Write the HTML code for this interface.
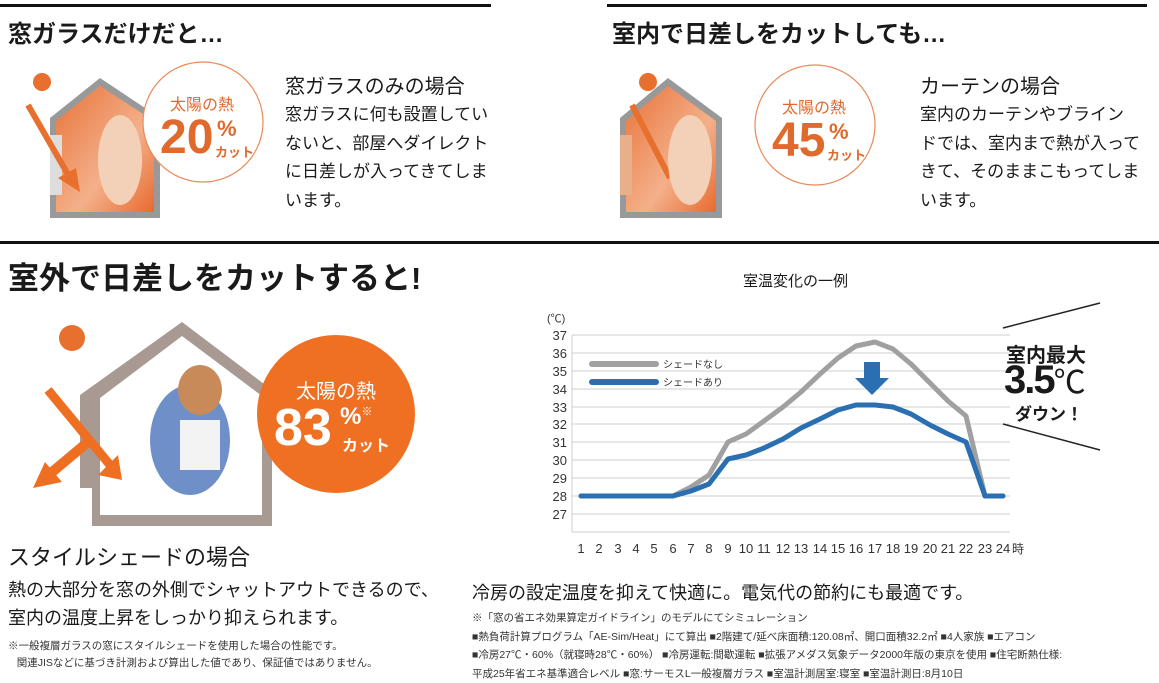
<!DOCTYPE html>
<html><head><meta charset="utf-8"><style>
html,body{margin:0;padding:0;background:#fff;}
body{width:1159px;height:679px;overflow:hidden;position:relative;font-family:"Liberation Sans","Noto Sans CJK JP",sans-serif;color:#1a1a1a;}
.a{position:absolute;white-space:nowrap;}
</style></head><body>
<svg class="a" style="left:0;top:0" width="1159" height="679" viewBox="0 0 1159 679">
<defs>
<linearGradient id="og" x1="0" y1="0" x2="1" y2="1"><stop offset="0" stop-color="#e8733a"/><stop offset="0.6" stop-color="#f4b08a"/><stop offset="1" stop-color="#e86a30"/></linearGradient>
</defs>
<rect x="0" y="4" width="491" height="3" fill="#111"/>
<rect x="607" y="4" width="540" height="3" fill="#111"/>
<rect x="0" y="241" width="1159" height="3" fill="#111"/>

<polygon points="50,118 100,78 160,118 160,218 50,218" fill="#999"/>
<polygon points="56,121 100,86 154,121 154,212 56,212" fill="url(#og)"/>
<rect x="50" y="135" width="12" height="60" fill="#ddd"/>
<circle cx="42" cy="82" r="9" fill="#e8702f"/>
<g stroke="#e8702f" stroke-width="6"><line x1="28" y1="105" x2="70" y2="178"/></g>
<polygon points="58,178 80,192 76,168" fill="#e8702f"/>
<ellipse cx="120" cy="160" rx="22" ry="45" fill="#f3d0b8"/>
<circle cx="203" cy="122" r="60" fill="#fff" stroke="#e8895a" stroke-width="1.2"/>

<polygon points="620,118 668,78 722,118 722,218 620,218" fill="#999"/>
<polygon points="626,121 668,86 716,121 716,212 626,212" fill="url(#og)"/>
<rect x="620" y="135" width="12" height="60" fill="#e8b08a"/>
<circle cx="648" cy="82" r="9" fill="#e8702f"/>
<line x1="632" y1="105" x2="670" y2="178" stroke="#e8702f" stroke-width="6"/>
<ellipse cx="690" cy="160" rx="22" ry="45" fill="#f3d0b8"/>
<circle cx="815" cy="125" r="60" fill="#fff" stroke="#e8895a" stroke-width="1.2"/>

<polygon points="80,395 182,322 272,390 272,526 92,526 92,488 80,488" fill="#a89a92"/>
<polygon points="100,398 182,336 262,396 262,515 100,515" fill="#fff"/>
<circle cx="72" cy="338" r="13" fill="#e8702f"/>
<ellipse cx="190" cy="440" rx="40" ry="55" fill="#6f8fc8"/>
<ellipse cx="200" cy="390" rx="22" ry="25" fill="#c98a5a"/>
<rect x="180" y="420" width="40" height="50" fill="#f3f3f3"/>
<line x1="48" y1="390" x2="110" y2="465" stroke="#ef6f22" stroke-width="9"/>
<polygon points="98,475 122,480 118,455" fill="#ef6f22"/>
<line x1="88" y1="442" x2="45" y2="478" stroke="#ef6f22" stroke-width="10"/>
<polygon points="33,488 62,482 45,462" fill="#ef6f22"/>
<circle cx="336" cy="414" r="79" fill="#ef7022"/>

<g stroke="#cfcfcf" stroke-width="1">
<line x1="572" y1="335" x2="1010" y2="335"/><line x1="572" y1="353" x2="1010" y2="353"/><line x1="572" y1="371" x2="1010" y2="371"/><line x1="572" y1="389" x2="1010" y2="389"/><line x1="572" y1="407" x2="1010" y2="407"/><line x1="572" y1="424" x2="1010" y2="424"/><line x1="572" y1="442" x2="1010" y2="442"/><line x1="572" y1="460" x2="1010" y2="460"/><line x1="572" y1="478" x2="1010" y2="478"/><line x1="572" y1="496" x2="1010" y2="496"/><line x1="572" y1="514" x2="1010" y2="514"/>
<line x1="572" y1="335" x2="572" y2="532"/><line x1="572" y1="532" x2="1010" y2="532"/>
</g>
<g fill="#333" font-size="13" text-anchor="end">
<text x="567" y="340">37</text><text x="567" y="358">36</text><text x="567" y="376">35</text><text x="567" y="394">34</text><text x="567" y="412">33</text><text x="567" y="429">32</text><text x="567" y="447">31</text><text x="567" y="465">30</text><text x="567" y="483">29</text><text x="567" y="501">28</text><text x="567" y="519">27</text>
</g>
<text x="547" y="322" font-size="11" fill="#333">(℃)</text>
<g fill="#333" font-size="13" text-anchor="middle">
<text x="581" y="553">1</text><text x="599" y="553">2</text><text x="618" y="553">3</text><text x="636" y="553">4</text><text x="654" y="553">5</text><text x="673" y="553">6</text><text x="691" y="553">7</text><text x="709" y="553">8</text><text x="728" y="553">9</text><text x="746" y="553">10</text><text x="764" y="553">11</text><text x="783" y="553">12</text><text x="801" y="553">13</text><text x="820" y="553">14</text><text x="838" y="553">15</text><text x="856" y="553">16</text><text x="875" y="553">17</text><text x="893" y="553">18</text><text x="911" y="553">19</text><text x="930" y="553">20</text><text x="948" y="553">21</text><text x="966" y="553">22</text><text x="985" y="553">23</text><text x="1003" y="553">24</text>
</g>
<text x="1012" y="553" font-size="12" fill="#333">時</text>
<polyline fill="none" stroke="#a0a0a0" stroke-width="5" stroke-linejoin="round" stroke-linecap="round" points="581,496 599,496 618,496 636,496 654,496 673,496 691,487 709,475 728,442 746,434 764,421 783,407 801,392 820,374 838,358 856,346 875,342 893,349 911,364 930,383 948,401 966,416 985,496 1003,496"/>
<polyline fill="none" stroke="#2a6fb2" stroke-width="5" stroke-linejoin="round" stroke-linecap="round" points="581,496 599,496 618,496 636,496 654,496 673,496 691,491 709,484 728,459 746,455 764,448 783,439 801,428 820,419 838,410 856,405 875,405 893,407 911,414 930,425 948,434 966,442 985,496 1003,496"/>
<line x1="592" y1="364" x2="656" y2="364" stroke="#a0a0a0" stroke-width="6" stroke-linecap="round"/>
<line x1="592" y1="382" x2="656" y2="382" stroke="#2a6fb2" stroke-width="6" stroke-linecap="round"/>
<text x="663" y="368" font-size="10" fill="#333">シェードなし</text>
<text x="663" y="386" font-size="10" fill="#333">シェードあり</text>
<polygon points="864,362 880,362 880,378 889,378 872,395 855,378 864,378" fill="#2a6fb2"/>
<line x1="1003" y1="328" x2="1100" y2="303" stroke="#222" stroke-width="1.5"/>
<line x1="1003" y1="424" x2="1100" y2="450" stroke="#222" stroke-width="1.5"/>
</svg>

<div class="a" style="left:8px;top:14px;font-size:24px;font-weight:bold;">窓ガラスだけだと…</div>
<div class="a" style="left:612px;top:14px;font-size:24px;font-weight:bold;">室内で日差しをカットしても…</div>
<div class="a" style="left:8px;top:253px;font-size:31px;font-weight:bold;">室外で日差しをカットすると!</div>

<div class="a" style="left:170px;top:91px;font-size:16px;color:#e06a2c;">太陽の熱</div>
<div class="a" style="left:160px;top:110px;font-size:48px;font-weight:bold;color:#e06a2c;">20</div>
<div class="a" style="left:217px;top:116px;font-size:22px;font-weight:bold;color:#e06a2c;">%</div>
<div class="a" style="left:215px;top:142px;font-size:13px;font-weight:bold;color:#e06a2c;">カット</div>

<div class="a" style="left:782px;top:94px;font-size:16px;color:#e06a2c;">太陽の熱</div>
<div class="a" style="left:772px;top:113px;font-size:48px;font-weight:bold;color:#e06a2c;">45</div>
<div class="a" style="left:829px;top:119px;font-size:22px;font-weight:bold;color:#e06a2c;">%</div>
<div class="a" style="left:827px;top:145px;font-size:13px;font-weight:bold;color:#e06a2c;">カット</div>

<div class="a" style="left:296px;top:375px;font-size:20px;color:#fff;">太陽の熱</div>
<div class="a" style="left:274px;top:398px;font-size:52px;font-weight:bold;color:#fff;">83</div>
<div class="a" style="left:340px;top:403px;font-size:24px;font-weight:bold;color:#fff;">%<span style="font-size:11px;vertical-align:top">※</span></div>
<div class="a" style="left:342px;top:432px;font-size:16px;font-weight:bold;color:#fff;">カット</div>

<div class="a" style="left:285px;top:70px;font-size:20px;">窓ガラスのみの場合</div>
<div class="a" style="left:285px;top:101px;font-size:17px;line-height:28.5px;">窓ガラスに何も設置してい<br>ないと、部屋へダイレクト<br>に日差しが入ってきてしま<br>います。</div>
<div class="a" style="left:920px;top:70px;font-size:20px;">カーテンの場合</div>
<div class="a" style="left:920px;top:101px;font-size:17px;line-height:28.5px;">室内のカーテンやブライン<br>ドでは、室内まで熱が入って<br>きて、そのままこもってしま<br>います。</div>

<div class="a" style="left:8px;top:540px;font-size:22px;">スタイルシェードの場合</div>
<div class="a" style="left:8px;top:576px;font-size:18px;line-height:28px;">熱の大部分を窓の外側でシャットアウトできるので、<br>室内の温度上昇をしっかり抑えられます。</div>
<div class="a" style="left:8px;top:638px;font-size:10.5px;line-height:17px;color:#333;">※一般複層ガラスの窓にスタイルシェードを使用した場合の性能です。<br>&nbsp;&nbsp;&nbsp;関連JISなどに基づき計測および算出した値であり、保証値ではありません。</div>

<div class="a" style="left:743px;top:270px;font-size:15px;">室温変化の一例</div>
<div class="a" style="left:1006px;top:339px;font-size:20px;font-weight:bold;">室内最大</div>
<div class="a" style="left:1004px;top:357px;font-size:40px;font-weight:bold;letter-spacing:-2px;">3.5<span style="font-size:32px;font-weight:normal">℃</span></div>
<div class="a" style="left:1015px;top:400px;font-size:17px;font-weight:bold;">ダウン！</div>

<div class="a" style="left:472px;top:579px;font-size:18px;">冷房の設定温度を抑えて快適に。電気代の節約にも最適です。</div>
<div class="a" style="left:472px;top:609px;font-size:10.5px;line-height:18.5px;color:#333;">※「窓の省エネ効果算定ガイドライン」のモデルにてシミュレーション<br>■熱負荷計算プログラム「AE-Sim/Heat」にて算出 ■2階建て/延べ床面積:120.08㎡、開口面積32.2㎡ ■4人家族 ■エアコン<br>■冷房27℃・60%（就寝時28℃・60%） ■冷房運転:間歇運転 ■拡張アメダス気象データ2000年版の東京を使用 ■住宅断熱仕様:<br>平成25年省エネ基準適合レベル ■窓:サーモスL一般複層ガラス ■室温計測居室:寝室 ■室温計測日:8月10日</div>
</body></html>
